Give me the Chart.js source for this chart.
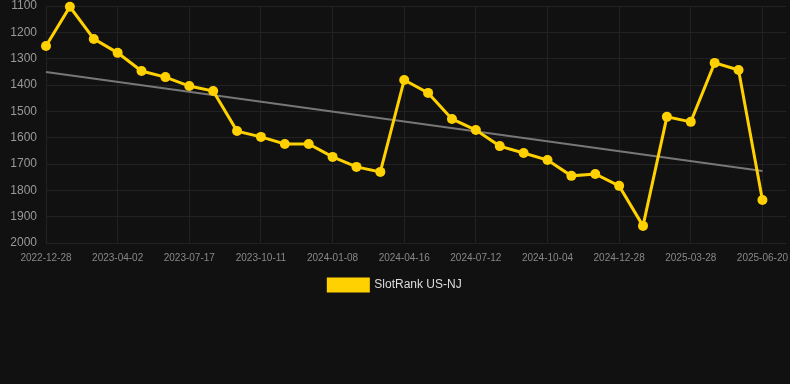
<!DOCTYPE html>
<html>
<head>
<meta charset="utf-8">
<script src="https://cdn.jsdelivr.net/npm/chart.js@4/dist/chart.umd.min.js"></script>
<style>
  html, body { margin: 0; padding: 0; background: #111111; }
  #wrap { width: 790px; height: 301px; }
</style>
</head>
<body>
<div id="wrap"><canvas id="chart"></canvas></div>
<script>
// x labels (last one empty, leaves room on the right like the original)
const dates = [
  '2022-12-28', '2023-01-30', '2023-03-01', '2023-04-02', '2023-05-07', '2023-06-11',
  '2023-07-17', '2023-08-19', '2023-09-15', '2023-10-11', '2023-11-10', '2023-12-10',
  '2024-01-08', '2024-02-10', '2024-03-14', '2024-04-16', '2024-05-13', '2024-06-12',
  '2024-07-12', '2024-08-10', '2024-09-07', '2024-10-04', '2024-11-03', '2024-12-01',
  '2024-12-28', '2025-01-28', '2025-02-28', '2025-03-28', '2025-04-25', '2025-05-23',
  '2025-06-20', ''
];

// rank values
const rankNJ = [
  1252, 1103, 1225, 1278, 1347, 1370, 1404, 1423, 1575, 1597, 1624,
  1624, 1673, 1711, 1730, 1381, 1430, 1529, 1571, 1632, 1658, 1685,
  1745, 1738, 1783, 1935, 1521, 1540, 1316, 1343, 1837, null
];

// trend line end points
const trend = [1351].concat(new Array(29).fill(null), [1727], [null]);

const yTicks = [1100, 2000, 100]; // min, max, step

const ctx = document.getElementById('chart').getContext('2d');
new Chart(ctx, {
  type: 'line',
  data: {
    labels: dates,
    datasets: [
      {
        label: 'SlotRank US-NJ',
        data: rankNJ,
        borderColor: '#FFD100',
        backgroundColor: '#FFD100',
        borderWidth: 3,
        pointRadius: 5,
        pointBorderWidth: 0,
        tension: 0,
        clip: false
      },
      {
        label: 'trend',
        data: trend,
        borderColor: '#777777',
        borderWidth: 2,
        pointRadius: 0,
        spanGaps: true,
        tension: 0
      }
    ]
  },
  options: {
    responsive: true,
    maintainAspectRatio: false,
    animation: false,
    layout: { autoPadding: false, padding: 0 },
    scales: {
      x: {
        grid: { color: '#222222', drawTicks: true, tickLength: 7, tickColor: 'rgba(0,0,0,0)' },
        border: { display: false },
        ticks: {
          color: '#888888',
          font: { family: 'Liberation Sans', size: 10 },
          autoSkip: false,
          maxRotation: 0,
          padding: 2,
          callback: function (val, i) {
            return (i % 3 === 0 && dates[i]) ? dates[i] : null;
          }
        }
      },
      y: {
        reverse: true,
        min: yTicks[0],
        max: yTicks[1],
        afterFit: s => { s.width = 46; },
        grid: { color: '#222222', drawTicks: true, tickLength: 9, tickColor: 'rgba(0,0,0,0)' },
        border: { display: false },
        ticks: {
          stepSize: yTicks[2],
          color: '#999999',
          padding: 0,
          font: { family: 'Liberation Sans', size: 12, lineHeight: 1 },
          callback: v => String(v)
        }
      }
    },
    plugins: {
      tooltip: { enabled: false },
      legend: {
        position: 'bottom',
        labels: {
          color: '#dddddd',
          boxWidth: 40,
          boxHeight: 12,
          padding: 13,
          font: { family: 'Liberation Sans', size: 12 },
          filter: item => item.text !== 'trend'
        }
      }
    }
  }
});
</script>
</body>
</html>
